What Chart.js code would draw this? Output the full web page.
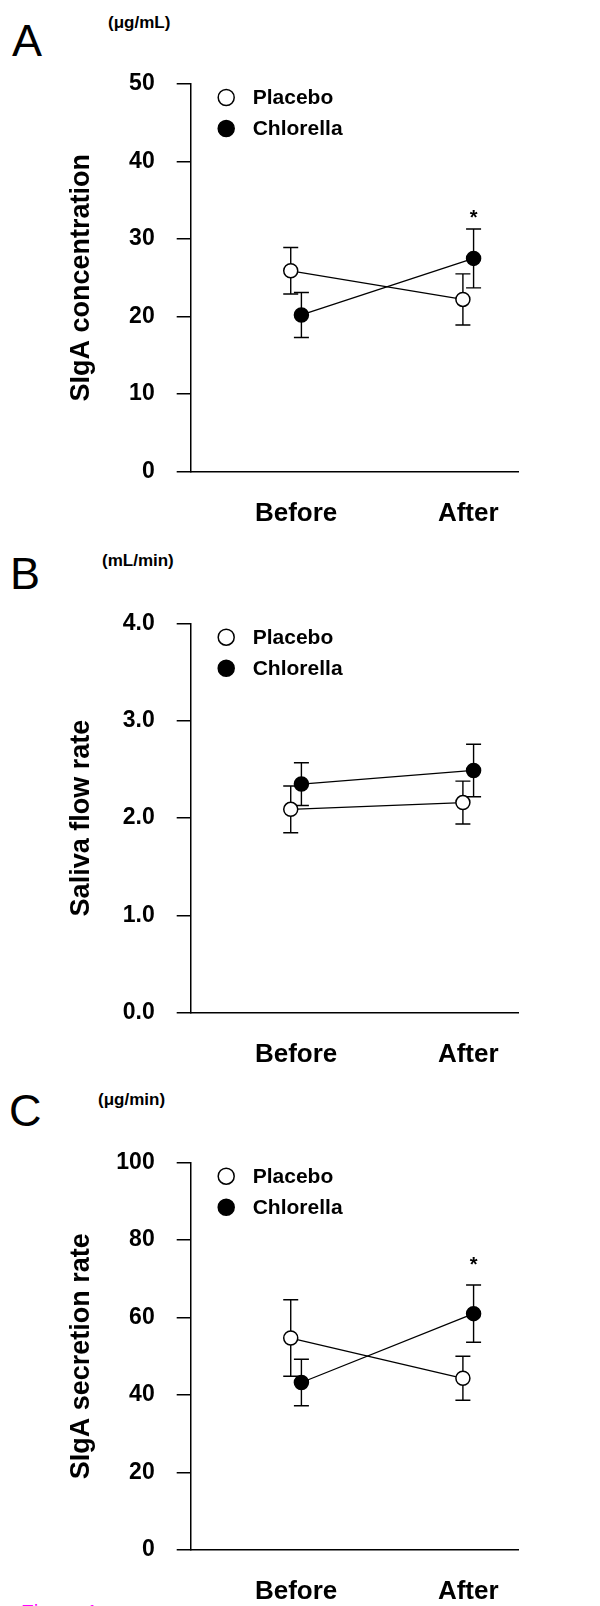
<!DOCTYPE html>
<html>
<head>
<meta charset="utf-8">
<script src="https://cdn.jsdelivr.net/npm/chart.js@4.4.0/dist/chart.umd.min.js"></script>
<style>
    html, body { margin: 0; padding: 0; overflow: hidden; background: #fff; }
    body { position: relative; width: 600px; height: 1606px; font-family: 'Liberation Sans', Arial, sans-serif; color: #000; }
    canvas { position: absolute; left: 0; }
    .letter { position: absolute; font-size: 45px; line-height: 45px; }
    .unit { position: absolute; font-size: 17px; line-height: 20px; font-weight: bold; }
    .caption { position: absolute; left: 21px; top: 1601px; font-size: 21px; line-height: 21px; color: #ff00ff; }
</style>
</head>
<body>
<div class="letter" style="left:12px;top:18px">A</div>
<div class="unit" style="left:108px;top:13px">(μg/mL)</div>
<div class="letter" style="left:10px;top:551px">B</div>
<div class="unit" style="left:102px;top:551px">(mL/min)</div>
<div class="letter" style="left:9px;top:1088px">C</div>
<div class="unit" style="left:98px;top:1090px">(μg/min)</div>
<div class="caption">Figure 1</div>

<canvas id="concChart" width="600" height="540" style="top:0;width:600px;height:540px"></canvas>
<canvas id="flowChart" width="600" height="540" style="top:540px;width:600px;height:540px"></canvas>
<canvas id="secrChart" width="600" height="526" style="top:1080px;width:600px;height:526px"></canvas>

<script>
const phases = ['Before', 'After'];
const seriesNames = ['Placebo', 'Chlorella'];

// A - SIgA concentration (ug/mL), mean and SE
const concTicks = [0, 10, 20, 30, 40, 50];
const concPlacebo = [25.9, 22.2];
const concPlaceboSe = [3.0, 3.3];
const concChlorella = [20.2, 27.5];
const concChlorellaSe = [2.9, 3.8];
const concSig = ['', '*'];
const concSigLevel = [null, 33.1];

// B - saliva flow rate (mL/min)
const flowTicks = [0, 1, 2, 3, 4];
const flowPlacebo = [2.09, 2.16];
const flowPlaceboSe = [0.24, 0.22];
const flowChlorella = [2.35, 2.49];
const flowChlorellaSe = [0.22, 0.27];
const flowSig = ['', ''];
const flowSigLevel = [null, null];

// C - SIgA secretion rate (ug/min)
const secrTicks = [0, 20, 40, 60, 80, 100];
const secrPlacebo = [54.7, 44.3];
const secrPlaceboSe = [9.9, 5.7];
const secrChlorella = [43.2, 61.0];
const secrChlorellaSe = [6.0, 7.4];
const secrSig = ['', '*'];
const secrSigLevel = [null, 74.5];

const FONT = "'Liberation Sans', Arial, sans-serif";
Chart.defaults.font.family = FONT;
Chart.defaults.color = '#000';

const dodge = 0.031; // small horizontal shift so the two groups don't overlap

const errorBars = {
    id: 'errorBars',
    beforeDatasetsDraw(chart, args, opts) {
        const ctx = chart.ctx;
        const yScale = chart.scales.y;
        ctx.save();
        ctx.strokeStyle = '#000';
        ctx.lineWidth = 1.4;
        chart.data.datasets.forEach(function (ds, i) {
            chart.getDatasetMeta(i).data.forEach(function (pt, j) {
                const v = ds.data[j].y;
                const top = yScale.getPixelForValue(v + ds.se[j]);
                const bot = yScale.getPixelForValue(v - ds.se[j]);
                ctx.beginPath();
                ctx.moveTo(pt.x, top);
                ctx.lineTo(pt.x, bot);
                ctx.moveTo(pt.x - opts.cap, top);
                ctx.lineTo(pt.x + opts.cap, top);
                ctx.moveTo(pt.x - opts.cap, bot);
                ctx.lineTo(pt.x + opts.cap, bot);
                ctx.stroke();
            });
        });
        ctx.restore();
    },
    afterDatasetsDraw(chart, args, opts) {
        const ctx = chart.ctx;
        const yScale = chart.scales.y;
        const meta = chart.getDatasetMeta(1);
        ctx.save();
        ctx.font = 'bold 20px ' + FONT;
        ctx.textAlign = 'center';
        ctx.textBaseline = 'middle';
        opts.sig.forEach(function (s, j) {
            if (!s) return;
            ctx.fillText(s, meta.data[j].x, yScale.getPixelForValue(opts.level[j]) + 4);
        });
        ctx.restore();
    }
};

const cornerLegend = {
    id: 'cornerLegend',
    afterDraw(chart) {
        const ctx = chart.ctx;
        const area = chart.chartArea;
        ctx.save();
        ctx.font = 'bold 21px ' + FONT;
        ctx.textBaseline = 'middle';
        chart.data.datasets.forEach(function (ds, i) {
            const cy = area.top + 13.5 + i * 31;
            ctx.beginPath();
            ctx.arc(area.left + 35.5, cy, 8, 0, Math.PI * 2);
            ctx.fillStyle = ds.pointBackgroundColor;
            ctx.fill();
            ctx.lineWidth = 1.5;
            ctx.strokeStyle = '#000';
            ctx.stroke();
            ctx.fillStyle = '#000';
            ctx.fillText(ds.label, area.left + 62, cy + 1);
        });
        ctx.restore();
    }
};

function buildPanel(id, p) {
    const points = function (vals, shift) {
        return vals.map(function (v, i) { return { x: i + 1 + shift, y: v }; });
    };
    new Chart(document.getElementById(id), {
        type: 'line',
        data: {
            datasets: [{
                label: seriesNames[0],
                data: points(p.placebo, -dodge),
                se: p.placeboSe,
                borderColor: '#000',
                borderWidth: 1.3,
                pointRadius: 7,
                pointBorderWidth: 1.5,
                pointBorderColor: '#000',
                pointBackgroundColor: '#fff',
                tension: 0
            }, {
                label: seriesNames[1],
                data: points(p.chlorella, dodge),
                se: p.chlorellaSe,
                borderColor: '#000',
                borderWidth: 1.3,
                pointRadius: 7,
                pointBorderWidth: 1.5,
                pointBorderColor: '#000',
                pointBackgroundColor: '#000',
                tension: 0
            }]
        },
        options: {
            responsive: false,
            animation: false,
            layout: { padding: { top: p.padTop, right: 82, left: 0, bottom: 0 } },
            plugins: {
                legend: { display: false },
                tooltip: { enabled: false },
                errorBars: { cap: 7.5, sig: p.sig, level: p.sigLevel }
            },
            scales: {
                x: {
                    type: 'linear',
                    min: 0.388,
                    max: 2.289,
                    afterBuildTicks: function (s) { s.ticks = phases.map(function (ph, i) { return { value: i + 1 }; }); },
                    afterFit: function (s) { s.height = p.xHeight; },
                    grid: { drawOnChartArea: false, drawTicks: false },
                    border: { display: true, color: '#000', width: 1.5 },
                    ticks: {
                        callback: function (v) { return phases[v - 1]; },
                        font: { size: 26, weight: 'bold' },
                        color: '#000',
                        padding: 27,
                        maxRotation: 0,
                        autoSkip: false
                    }
                },
                y: {
                    min: p.ticks[0],
                    max: p.ticks[p.ticks.length - 1],
                    afterBuildTicks: function (s) { s.ticks = p.ticks.map(function (v) { return { value: v }; }); },
                    afterFit: function (s) { s.width = 190.7; },
                    grid: { drawOnChartArea: false, drawTicks: true, tickLength: 14, color: '#000', lineWidth: 1.5 },
                    border: { color: '#000', width: 1.5 },
                    ticks: {
                        callback: p.fmt,
                        font: { size: 23, weight: 'bold' },
                        color: '#000',
                        padding: 22
                    },
                    title: {
                        display: true,
                        text: p.title,
                        font: { size: 27, weight: 'bold' },
                        color: '#000',
                        padding: { top: 65, bottom: 0 }
                    }
                }
            }
        },
        plugins: [errorBars, cornerLegend]
    });
}

buildPanel('concChart', {
    ticks: concTicks, placebo: concPlacebo, placeboSe: concPlaceboSe,
    chlorella: concChlorella, chlorellaSe: concChlorellaSe,
    sig: concSig, sigLevel: concSigLevel,
    title: 'SIgA concentration', fmt: function (v) { return v; },
    padTop: 84, xHeight: 68.5
});

buildPanel('flowChart', {
    ticks: flowTicks, placebo: flowPlacebo, placeboSe: flowPlaceboSe,
    chlorella: flowChlorella, chlorellaSe: flowChlorellaSe,
    sig: flowSig, sigLevel: flowSigLevel,
    title: 'Saliva flow rate', fmt: function (v) { return v.toFixed(1); },
    padTop: 83.7, xHeight: 67.5
});

buildPanel('secrChart', {
    ticks: secrTicks, placebo: secrPlacebo, placeboSe: secrPlaceboSe,
    chlorella: secrChlorella, chlorellaSe: secrChlorellaSe,
    sig: secrSig, sigLevel: secrSigLevel,
    title: 'SIgA secretion rate', fmt: function (v) { return v; },
    padTop: 82.7, xHeight: 56.3
});
</script>
</body>
</html>
